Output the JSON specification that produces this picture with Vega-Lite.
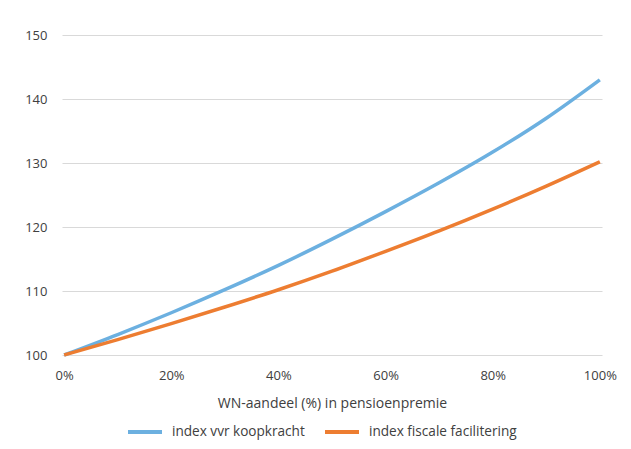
{
  "$schema": "https://vega.github.io/schema/vega-lite/v6.json",
  "width": 540,
  "height": 320,
  "autosize": "none",
  "padding": {"left": 62, "top": 35, "right": 29, "bottom": 94},
  "background": "white",
  "config": {
    "font": "Open Sans",
    "view": {"stroke": null},
    "axis": {"labelColor": "#404040", "titleColor": "#404040", "labelFont": "Open Sans", "titleFont": "Open Sans"}
  },
  "data": {
    "values": [
      {"x": 0.0, "serie": "index vvr koopkracht", "index": 100.0},
      {"x": 0.1, "serie": "index vvr koopkracht", "index": 103.2},
      {"x": 0.2, "serie": "index vvr koopkracht", "index": 106.6},
      {"x": 0.3, "serie": "index vvr koopkracht", "index": 110.2},
      {"x": 0.4, "serie": "index vvr koopkracht", "index": 114.0},
      {"x": 0.5, "serie": "index vvr koopkracht", "index": 118.1},
      {"x": 0.6, "serie": "index vvr koopkracht", "index": 122.4},
      {"x": 0.7, "serie": "index vvr koopkracht", "index": 126.9},
      {"x": 0.8, "serie": "index vvr koopkracht", "index": 131.7},
      {"x": 0.9, "serie": "index vvr koopkracht", "index": 137.0},
      {"x": 1.0, "serie": "index vvr koopkracht", "index": 143.0},
      {"x": 0.0, "serie": "index fiscale facilitering", "index": 100.0},
      {"x": 0.1, "serie": "index fiscale facilitering", "index": 102.4},
      {"x": 0.2, "serie": "index fiscale facilitering", "index": 104.9},
      {"x": 0.3, "serie": "index fiscale facilitering", "index": 107.5},
      {"x": 0.4, "serie": "index fiscale facilitering", "index": 110.2},
      {"x": 0.5, "serie": "index fiscale facilitering", "index": 113.1},
      {"x": 0.6, "serie": "index fiscale facilitering", "index": 116.2},
      {"x": 0.7, "serie": "index fiscale facilitering", "index": 119.4},
      {"x": 0.8, "serie": "index fiscale facilitering", "index": 122.8},
      {"x": 0.9, "serie": "index fiscale facilitering", "index": 126.4},
      {"x": 1.0, "serie": "index fiscale facilitering", "index": 130.2}
    ]
  },
  "mark": {"type": "line", "strokeWidth": 3.5, "interpolate": "monotone"},
  "encoding": {
    "x": {
      "field": "x",
      "type": "quantitative",
      "scale": {"domain": [-0.004, 1.004], "nice": false, "zero": false},
      "axis": {
        "values": [0, 0.2, 0.4, 0.6, 0.8, 1.0],
        "format": ".0%",
        "grid": false,
        "domain": false,
        "ticks": false,
        "labelFontSize": 13,
        "labelPadding": 14,
        "title": "WN-aandeel (%) in pensioenpremie",
        "titleFontSize": 14,
        "titleFontWeight": "normal",
        "titlePadding": 14
      }
    },
    "y": {
      "field": "index",
      "type": "quantitative",
      "scale": {"domain": [100, 150], "nice": false, "zero": false},
      "axis": {
        "values": [100, 110, 120, 130, 140, 150],
        "grid": true,
        "gridColor": "#d9d9d9",
        "gridWidth": 1,
        "domain": false,
        "ticks": false,
        "labelFontSize": 13,
        "labelPadding": 15,
        "title": null
      }
    },
    "color": {
      "field": "serie",
      "type": "nominal",
      "sort": ["index vvr koopkracht", "index fiscale facilitering"],
      "scale": {"domain": ["index vvr koopkracht", "index fiscale facilitering"], "range": ["#6cb0e0", "#ed7d31"]},
      "legend": {
        "title": null,
        "orient": "none",
        "legendX": 64,
        "legendY": 378,
        "direction": "horizontal",
        "symbolType": "stroke",
        "symbolSize": 1156,
        "symbolStrokeWidth": 4,
        "labelFontSize": 13.6,
        "labelColor": "#404040",
        "labelFont": "Open Sans",
        "columnPadding": 12,
        "labelOffset": 8
      }
    }
  }
}
